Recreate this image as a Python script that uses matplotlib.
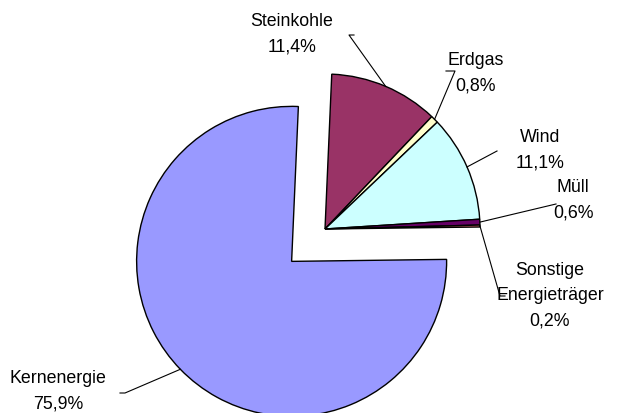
import matplotlib.pyplot as plt
import numpy as np

plt.rcParams['font.family'] = ['Liberation Sans', 'DejaVu Sans']

namen = ['Steinkohle', 'Erdgas', 'Wind', 'Müll', 'Sonstige\nEnergieträger', 'Kernenergie']
anteile = [11.4, 0.8, 11.1, 0.6, 0.2, 75.9]
farben = ['#993366', '#FFFFCC', '#CCFFFF', '#660066', '#FF8080', '#9999FF']
explode_anteil = [0, 0, 0, 0, 0, 0.3]   # fraction of radius

# label centres in image pixels (x, y from top)
text_pos = [(292, 34), (476, 73), (540, 150), (573, 200), (550, 296), (58, 391)]
# leader end points near the labels (image pixels)
elbow = [[(349, 36), (354, 36)], [(455, 72), (446, 72)], [(497, 152)],
         [(556, 205)], [(500, 297), (505, 297)], [(125, 394), (120, 394)]]

H = 414
mitte = (325, H - 230)
r = 155

fig = plt.figure(figsize=(6.29, 4.14), dpi=100)
ax = fig.add_axes([0, 0, 1, 1])
wedges, _ = ax.pie(anteile, colors=farben, explode=[e * r for e in explode_anteil],
                   center=mitte, radius=r, startangle=87.5, counterclock=False,
                   wedgeprops=dict(edgecolor='black', linewidth=1))

for w, name, wert, tp, el in zip(wedges, namen, anteile, text_pos, elbow):
    a = np.deg2rad((w.theta1 + w.theta2) / 2)
    cx, cy = w.center
    px, py = cx + w.r * np.cos(a), cy + w.r * np.sin(a)
    xs = [px] + [e[0] for e in el]
    ys = [py] + [H - e[1] for e in el]
    ax.plot(xs, ys, color='black', lw=0.8)
    ax.text(tp[0], H - tp[1], f'{name}\n{wert:.1f}%'.replace('.', ','),
            ha='center', va='center', fontsize=12.8, linespacing=1.65)

ax.set_xlim(0, 629)
ax.set_ylim(0, H)
ax.set_aspect('equal')
ax.axis('off')
fig.savefig('out.png', dpi=100)
